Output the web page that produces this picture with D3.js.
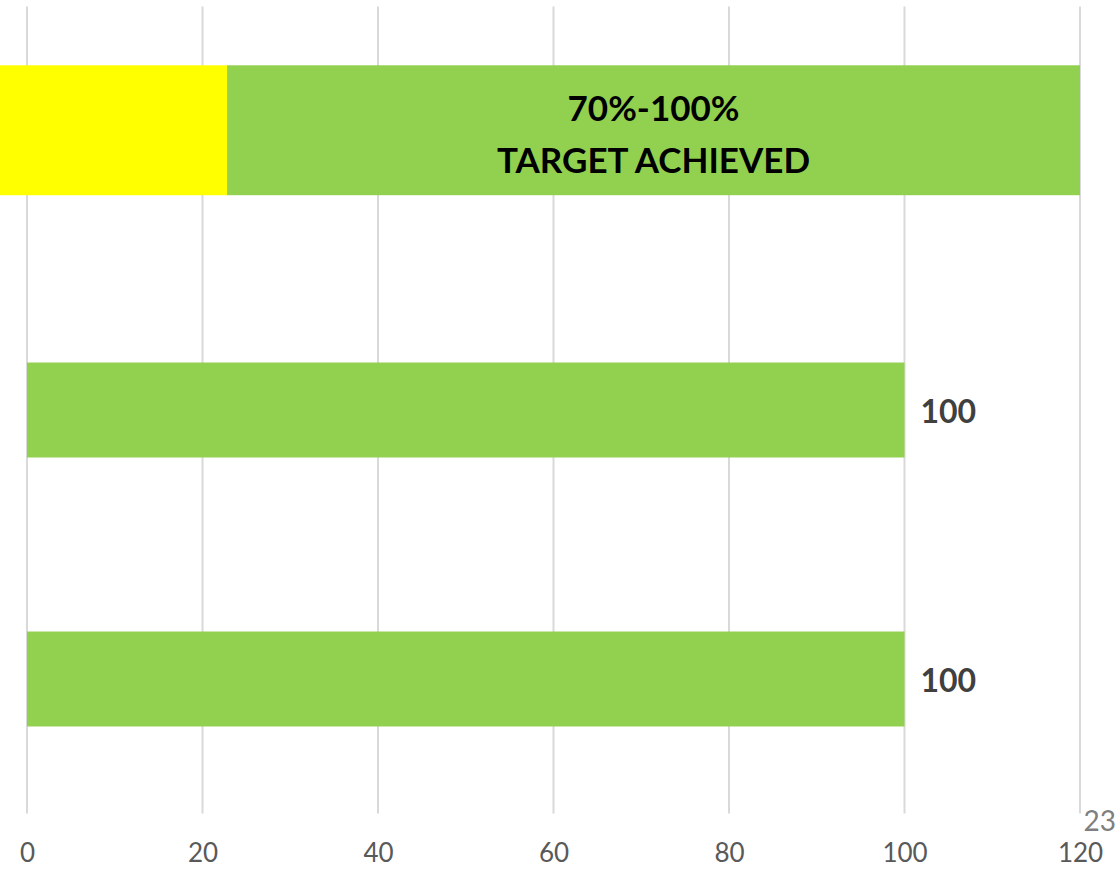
<!DOCTYPE html>
<html>
<head>
<meta charset="utf-8">
<script src="https://cdnjs.cloudflare.com/ajax/libs/d3/7.8.5/d3.min.js"></script>
<style>
  html, body { margin: 0; padding: 0; background: #fff; }
  svg { display: block; font-family: Lato, "Open Sans", sans-serif; }
</style>
</head>
<body>
<div id="chart"></div>
<script>
// data
var categories = ["target", "row2", "row3"];
var barValues = [100, 100];            // row2, row3
var bandStarts = [-3.1, 22.8];         // yellow, green segment starts
var bandEnds = [22.8, 120];            // yellow, green segment ends
var bandColors = ["#ffff00", "#92d050"];
var bandText = ["70%-100%", "TARGET ACHIEVED"];
var xTicks = [0, 20, 40, 60, 80, 100, 120];
var slideNo = "23";

var width = 1120, height = 869;
var x = d3.scaleLinear().domain([0, 120]).range([27, 1080]);
var y = d3.scaleBand().domain(categories).range([6.5, 813.5]).paddingInner(0.647).paddingOuter(0.3235);

const svg = d3.select("#chart")
  .append("svg")
  .attr("width", width)
  .attr("height", height);

// grid lines
svg.append("g")
  .attr("class", "grid")
  .selectAll("line")
  .data(xTicks)
  .enter()
  .append("line")
  .attr("x1", d => x(d)).attr("x2", d => x(d))
  .attr("y1", y.range()[0]).attr("y2", y.range()[1])
  .attr("stroke", "#d9d9d9")
  .attr("stroke-width", 2);

// tick labels
var axis = d3.axisBottom(x).tickValues(xTicks).tickSize(0).tickPadding(0);
var ax = svg.append("g")
  .attr("transform", "translate(0,852)")
  .call(axis);
ax.select(".domain").remove();
ax.selectAll("text")
  .attr("dy", null)
  .attr("dominant-baseline", "central")
  .attr("fill", "#595959")
  .style("font-size", "26px")
  .attr("font-family", "Lato, 'Open Sans', sans-serif");

// target band (stacked segments)
var tH = y.step() * 0.483;
var tY = y("target") + y.bandwidth() / 2 - tH / 2 - y.step() * 0.04;
svg.append("g")
  .selectAll("rect")
  .data(bandStarts)
  .enter()
  .append("rect")
  .attr("x", (d, i) => x(d))
  .attr("width", (d, i) => x(bandEnds[i]) - x(d))
  .attr("y", tY)
  .attr("height", tH)
  .attr("fill", (d, i) => bandColors[i]);

var tx = (x(bandStarts[1]) + x(bandEnds[1])) / 2;
svg.append("g")
  .selectAll("text")
  .data(bandText)
  .enter()
  .append("text")
  .attr("x", tx)
  .attr("y", (d, i) => tY + tH * (0.32 + i * 0.4))
  .attr("text-anchor", "middle")
  .attr("dominant-baseline", "central")
  .style("font-size", "35px")
  .style("font-weight", "bold")
  .attr("fill", "#000")
  .text(d => d);

// data bars
var rows = categories.slice(1);
svg.append("g")
  .selectAll("rect")
  .data(barValues)
  .enter()
  .append("rect")
  .attr("x", x(0))
  .attr("y", (d, i) => y(rows[i]))
  .attr("width", d => x(d) - x(0))
  .attr("height", y.bandwidth())
  .attr("fill", "#92d050");

svg.append("g")
  .selectAll("text")
  .data(barValues)
  .enter()
  .append("text")
  .attr("x", d => x(d) + 16)
  .attr("y", (d, i) => y(rows[i]) + y.bandwidth() / 2)
  .attr("dominant-baseline", "central")
  .style("font-size", "32px")
  .style("font-weight", "bold")
  .attr("fill", "#404040")
  .text(d => d);

// slide number
svg.append("text")
  .attr("x", 1116)
  .attr("y", 820)
  .attr("text-anchor", "end")
  .attr("dominant-baseline", "central")
  .style("font-size", "28px")
  .attr("fill", "#7f7f7f")
  .text(slideNo);
</script>
</body>
</html>
